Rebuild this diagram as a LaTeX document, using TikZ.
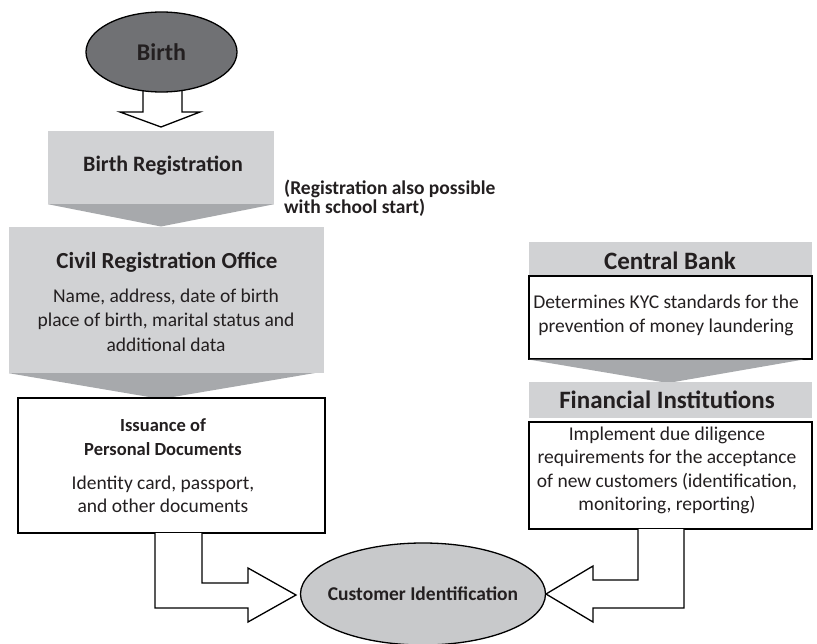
\documentclass[tikz,border=0pt]{standalone}
\usepackage{fontspec}
\setmainfont{Carlito}
\usetikzlibrary{shapes.geometric,calc}
\definecolor{boxgray}{HTML}{D1D2D4}
\definecolor{chevgray}{HTML}{A7A9AC}
\definecolor{birthgray}{HTML}{707174}
\definecolor{custgray}{HTML}{C8C9CB}
\definecolor{inkdark}{HTML}{231F20}
\newcommand\fsz[2]{\fontsize{#1}{#2}\selectfont}
\tikzset{
  x=1pt, y=-1pt,
  every node/.style={text=inkdark, inner sep=0pt},
  graybox/.style={fill=boxgray, rectangle},
  whitebox/.style={draw=black, fill=white, line width=1.3pt, rectangle},
  chevron/.style={fill=chevgray},
  hollow/.style={draw=black, fill=white, line width=1.3pt, line join=miter},
  blob/.style={ellipse, draw=black, line width=1.3pt},
  headtext/.style={font=\fsz{25}{28}\bfseries},
  titletext/.style={font=\fsz{22}{24}\bfseries, align=center},
  bodytext/.style={font=\fsz{19.5}{23.5}, align=center}
}
\begin{document}
\begin{tikzpicture}
\useasboundingbox (0,0) rectangle (817,643);
% left column
\draw[hollow] (143,80) -- (143,112) -- (120,112) -- (161,127) -- (200,112) -- (182,112) -- (182,80);
\node[blob, fill=birthgray, minimum width=151pt, minimum height=80pt, headtext, font=\fsz{24}{28}\bfseries] (birth) at (161.5,52) {\makebox[0pt]{Birth}};
\node[graybox, minimum width=226pt, minimum height=73pt] (breg) at (161,167.5) {};
\node[titletext] (bregtxt) at (163,166) {Birth Registration};
\fill[chevron] (breg.south west) -- (breg.south east) -- (161,226.5) -- cycle;
\node[font=\fsz{19.5}{19.5}\bfseries, align=left, anchor=west] (note) at (284,198) {(Registration also possible\\with school start)};
\node[graybox, minimum width=315pt, minimum height=146pt] (civil) at (166.5,300) {};
\node[titletext, font=\fsz{23}{24}\bfseries] (civiltitle) at (167,262) {Civil Registration Office};
\node[bodytext, font=\fsz{19.5}{24.5}] (civiltxt) at (166,320) {Name, address, date of birth\\place of birth, marital status and\\additional data};
\fill[chevron] (civil.south west) -- (315,373) -- (161,399) -- cycle;
\node[whitebox, minimum width=307pt, minimum height=135pt] (issue) at (171.5,465.5) {};
\node[titletext, font=\fsz{18.5}{24}\bfseries] (issuetitle) at (163,437) {Issuance of\\Personal Documents};
\node[bodytext] (issuetxt) at (163,494.5) {Identity card, passport,\\and other documents};
% right column
\node[graybox, minimum width=283pt, minimum height=34pt] (cbank) at (670.5,259) {};
\node[headtext] (cbanktitle) at (670,261) {Central Bank};
\node[whitebox, minimum width=283pt, minimum height=83pt] (cbanktxt) at (670.5,317.5) {};
\node[bodytext] (kyc) at (666,315.5) {Determines KYC standards for the\\prevention of money laundering};
\fill[chevron] (529,359.6) -- (803,359.6) -- (668,383) -- cycle;
\node[graybox, minimum width=283pt, minimum height=36pt] (finst) at (670.5,400) {};
\node[headtext] (finsttitle) at (667,400) {Financial Institutions};
\node[whitebox, minimum width=283pt, minimum height=107pt] (finsttxt) at (670.5,475.5) {};
\node[bodytext] (diligence) at (667,470.5) {Implement due diligence\\requirements for the acceptance\\of new customers (identification,\\monitoring, reporting)};
% bottom
\draw[hollow] (155,533) -- (155,608) -- (248,608) -- (248,622) -- (296,595) -- (248,568) -- (248,583) -- (202,583) -- (202,533);
\draw[hollow] (684,529) -- (684,608) -- (593,608) -- (593,622) -- (546,594) -- (593,566) -- (593,580) -- (638,580) -- (638,529);
\node[blob, fill=custgray, minimum width=245pt, minimum height=102pt, font=\fsz{19.5}{20}\bfseries] (cust) at (423,594) {\makebox[0pt]{\raisebox{-3pt}{Customer Identification}}};
\end{tikzpicture}
\end{document}
